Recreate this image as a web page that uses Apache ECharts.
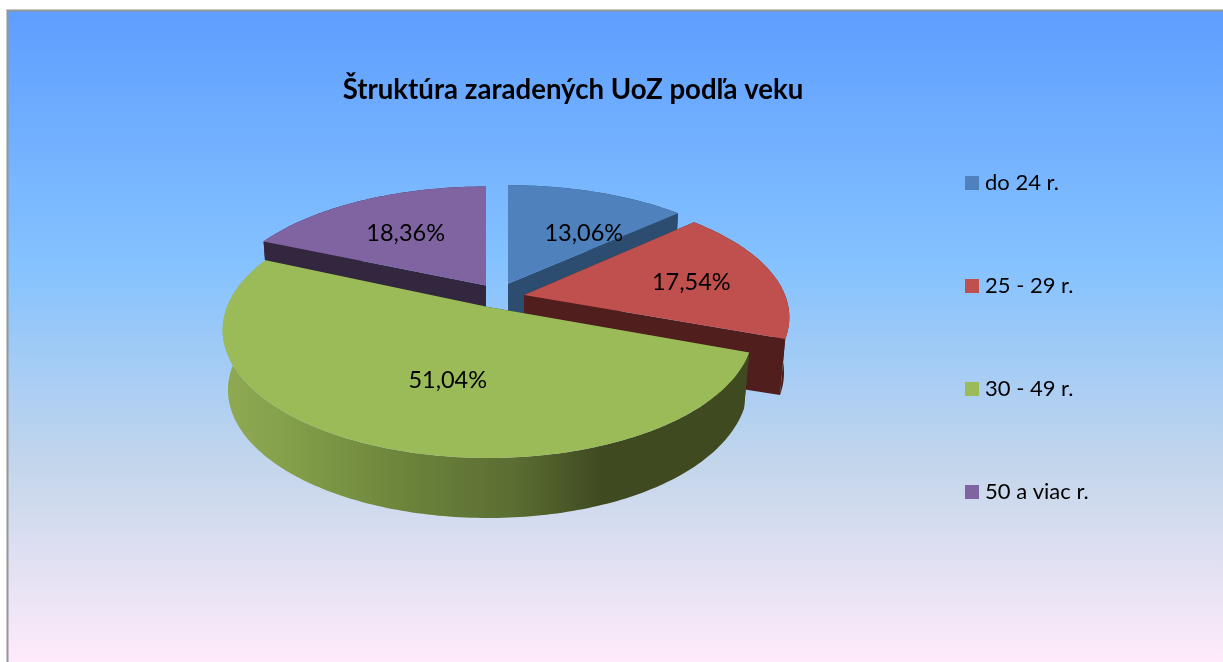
<!DOCTYPE html>
<html>
<head>
<meta charset="utf-8">
<style>html,body{margin:0;padding:0;background:#fff}#c{width:1223px;height:662px}</style>
<script src="https://cdn.jsdelivr.net/npm/echarts@6/dist/echarts.min.js"></script>
</head>
<body>
<div id="c"></div>
<script>
const titleText = 'Štruktúra zaradených UoZ podľa veku';
const categories = ['do 24 r.', '25 - 29 r.', '30 - 49 r.', '50 a viac r.'];
const values = [13.06, 17.54, 51.04, 18.36];

const FONT = 'Lato, "Open Sans", sans-serif';
const topColors = ['#4F81BD', '#C0504D', '#9BBB59', '#8064A2'];
const wallColors = ['#2D4D70', '#4F1E1D', null, '#33273F'];
const moveX = [20, 36, 0, -2];      // slice explosion, pixels sideways
const moveY = [-0.195, -0.098, 0, -0.18]; // slice explosion, pie radii toward the back
const labelNudge = [[19, 8], [17, 1.5], [25, -3], [-2, 2]];

const CX = 488, CY = 307, R = 261, A = 123.8, B = 0.18, SHRINK = 0.98, DEPTH = 60, TAPER = 5;
const total = values.reduce((a, b) => a + b, 0);
const starts = [];
values.reduce((acc, v, i) => { starts[i] = acc; return acc + v / total * 360; }, 0);

function project(i, deg, r, bottom) {
  const t = deg * Math.PI / 180;
  const X = Math.sin(t) * r, Y = -Math.cos(t) * r;
  const Yw = Y + moveY[i];
  let lx = R * X / (1 - B * Y);
  let y = CY + A * Yw / (1 - B * Yw);
  if (bottom) {
    lx *= SHRINK;
    y += DEPTH - (X > 0 ? TAPER * Math.pow(X, 4) : 0);
  }
  return [CX + moveX[i] + lx, y];
}

function renderSlice(idx) {
  return function () {
    const a0 = starts[idx], a1 = a0 + values[idx] / total * 360;
    const arcTop = [], arcBot = [];
    for (let d = a0; d < a1; d += 1) { arcTop.push(project(idx, d, 1)); arcBot.push(project(idx, d, 1, true)); }
    arcTop.push(project(idx, a1, 1)); arcBot.push(project(idx, a1, 1, true));
    const apexT = project(idx, 0, 0), apexB = project(idx, 0, 0, true);
    const wallFill = wallColors[idx] || new echarts.graphic.LinearGradient(0, 0, 1, 0, [
      { offset: 0, color: '#8FAA52' },
      { offset: 0.12, color: '#84A04A' },
      { offset: 0.35, color: '#6C833B' },
      { offset: 0.55, color: '#5B6E33' },
      { offset: 0.72, color: '#3F4A20' },
      { offset: 1, color: '#3F4A20' }
    ]);
    const children = [];
    [[arcTop[0], arcBot[0]], [arcTop[arcTop.length - 1], arcBot[arcBot.length - 1]]].forEach(function (e) {
      children.push({ type: 'polygon', shape: { points: [apexT, e[0], e[1], apexB] },
        style: { fill: wallColors[idx] || '#3F4A20' }, silent: true });
    });
    children.push({ type: 'polygon', shape: { points: arcTop.concat(arcBot.slice().reverse()) },
      style: { fill: wallFill }, silent: true });
    children.push({ type: 'polygon', shape: { points: [apexT].concat(arcTop) },
      style: { fill: topColors[idx] }, silent: true });
    const p = project(idx, (a0 + a1) / 2, 0.6);
    children.push({ type: 'text', silent: true, style: {
      x: p[0] + labelNudge[idx][0], y: p[1] + labelNudge[idx][1],
      text: values[idx].toFixed(2).replace('.', ',') + '%',
      align: 'center', verticalAlign: 'middle', fill: '#000',
      font: '23.5px ' + FONT } });
    return { type: 'group', children: children };
  };
}

const drawOrder = [3, 0, 1, 2];
const chart = echarts.init(document.getElementById('c'), null, { renderer: 'canvas' });
chart.setOption({
  animation: false,
  backgroundColor: '#fff',
  title: { text: titleText, left: 568, top: 71, textAlign: 'center',
    textStyle: { fontFamily: FONT, fontWeight: 'bold', fontSize: 27.6, color: '#000' } },
  legend: { orient: 'vertical', left: 965, top: 172, padding: 0, itemWidth: 14, itemHeight: 14, itemGap: 81,
    icon: 'rect', selectedMode: false, data: categories,
    textStyle: { fontFamily: FONT, fontSize: 22, color: '#000', padding: [0, 0, 0, 1] } },
  graphic: [
    { type: 'rect', silent: true, z: 0, shape: { x: 6, y: 9, width: 1217, height: 653 }, style: { fill: '#C8C8C8' } },
    { type: 'rect', silent: true, z: 0, shape: { x: 7, y: 10, width: 1216, height: 652 }, style: { fill: '#969696' } },
    { type: 'rect', silent: true, z: 1, shape: { x: 8.5, y: 11.5, width: 1215, height: 651 },
      style: { fill: new echarts.graphic.LinearGradient(0, 0, 0, 1, [
        { offset: 0, color: '#5E9EFF' }, { offset: 0.39, color: '#85C2FF' },
        { offset: 0.7, color: '#C4D6EB' }, { offset: 1, color: '#FFEBFA' }]) } }
  ],
  series: drawOrder.map(function (i, k) {
    return { type: 'custom', name: categories[i], coordinateSystem: 'none', z: 5 + k, silent: true,
      itemStyle: { color: topColors[i] }, data: [[values[i]]], renderItem: renderSlice(i) };
  })
});
</script>
</body>
</html>
